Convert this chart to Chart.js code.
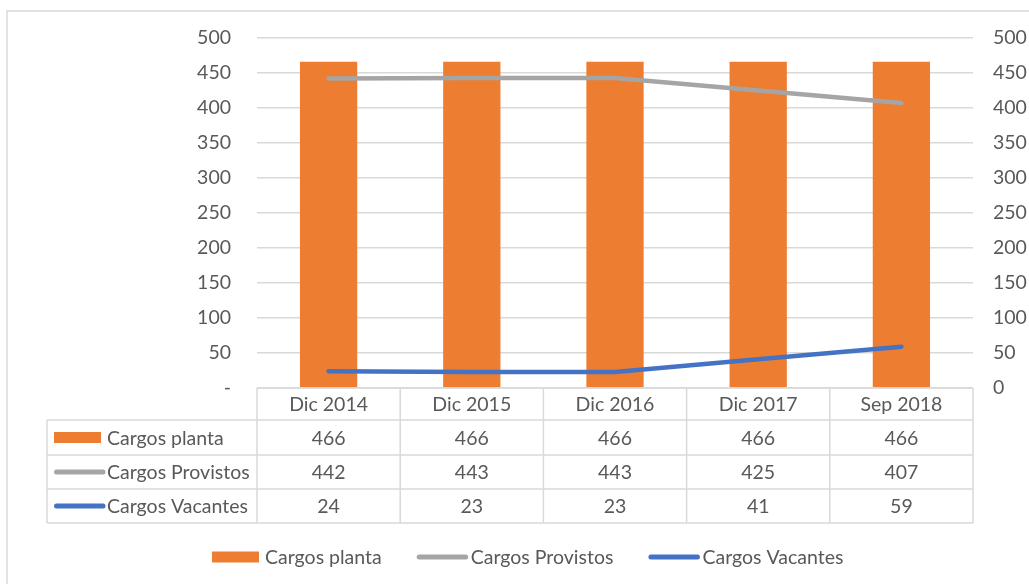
<!DOCTYPE html>
<html>
<head>
<meta charset="utf-8">
<script src="https://cdn.jsdelivr.net/npm/chart.js@4"></script>
<style>
  html, body { margin: 0; padding: 0; background: #fff; }
  #wrap { position: relative; width: 1029px; height: 584px; }
</style>
</head>
<body>
<div id="wrap"><canvas id="grafico"></canvas></div>
<script>
// Datos del gráfico
const periodos = ["Dic 2014", "Dic 2015", "Dic 2016", "Dic 2017", "Sep 2018"];
const cargosPlanta = [466, 466, 466, 466, 466];
const cargosProvistos = [442, 443, 443, 425, 407];
const cargosVacantes = [24, 23, 23, 41, 59];
const series = ["Cargos planta", "Cargos Provistos", "Cargos Vacantes"];
const ejeMin = 0, ejeMax = 500, ejePaso = 50;

const NARANJA = "#ed7d31", GRIS = "#a5a5a5", AZUL = "#4472c4";
const TEXTO = "#595959", LINEAS = "#d9d9d9";
const FUENTE = "Lato, 'Open Sans', sans-serif";
const TAM = 19.5;

// Tabla de datos + leyenda dibujadas debajo del área del gráfico
const tablaDatos = {
  id: "tablaDatos",
  beforeDraw(chart) {
    const ctx = chart.ctx;
    ctx.save();
    ctx.strokeStyle = LINEAS;
    ctx.lineWidth = 1.5;
    ctx.strokeRect(7, 11, 1100, 700);
    ctx.restore();
  },
  afterDraw(chart) {
    const ctx = chart.ctx;
    const area = chart.chartArea;
    const xs = chart.scales.x;
    const n = periodos.length;
    const anchoCol = (area.right - area.left) / n;
    const top = Math.round(area.bottom);
    const filas = [top, top + 32, top + 67, top + 101, top + 135];
    const izq = 47;
    const valores = [cargosPlanta, cargosProvistos, cargosVacantes];
    const colores = [NARANJA, GRIS, AZUL];

    ctx.save();
    ctx.strokeStyle = LINEAS;
    ctx.lineWidth = 1.5;
    // líneas horizontales
    ctx.beginPath();
    ctx.moveTo(area.left, filas[0]);
    ctx.lineTo(area.right, filas[0]);
    for (let i = 1; i < filas.length; i++) {
      ctx.moveTo(izq, filas[i]);
      ctx.lineTo(area.right, filas[i]);
    }
    // verticales
    ctx.moveTo(izq, filas[1]);
    ctx.lineTo(izq, filas[4]);
    for (let c = 0; c <= n; c++) {
      const x = area.left + c * anchoCol;
      ctx.moveTo(x, filas[0]);
      ctx.lineTo(x, filas[4]);
    }
    ctx.stroke();

    ctx.fillStyle = TEXTO;
    ctx.font = TAM + "px " + FUENTE;
    ctx.textAlign = "center";
    ctx.textBaseline = "middle";
    periodos.forEach((p, i) => {
      const cx = xs.getPixelForValue(i);
      ctx.fillText(p, cx, (filas[0] + filas[1]) / 2 + 1);
      valores.forEach((serie, s) => {
        ctx.fillText(String(serie[i]), cx, (filas[s + 1] + filas[s + 2]) / 2 + 1);
      });
    });

    // claves de la tabla
    ctx.textAlign = "left";
    series.forEach((nombre, s) => {
      const cy = (filas[s + 1] + filas[s + 2]) / 2;
      dibujarClave(ctx, s, colores[s], 54, cy);
      ctx.fillStyle = TEXTO;
      ctx.fillText(nombre, 107, cy + 1);
    });

    // leyenda inferior
    let x = 212;
    const ly = 557;
    series.forEach((nombre, s) => {
      dibujarClave(ctx, s, colores[s], x, ly);
      const tx = s === 0 ? x + 53 : x + 54;
      ctx.fillStyle = TEXTO;
      ctx.fillText(nombre, tx, ly + 1);
      x = tx + ctx.measureText(nombre).width + 35;
    });
    ctx.restore();
  }
};

function dibujarClave(ctx, s, color, x, cy) {
  if (s === 0) {
    ctx.fillStyle = color;
    ctx.fillRect(x, cy - 5.5, 47, 11);
  } else {
    ctx.strokeStyle = color;
    ctx.lineWidth = 5;
    ctx.lineCap = "round";
    ctx.beginPath();
    ctx.moveTo(x + 2.5, cy);
    ctx.lineTo(x + 49, cy);
    ctx.stroke();
  }
}

new Chart(document.getElementById("grafico"), {
  type: "bar",
  data: {
    labels: periodos,
    datasets: [
      {
        label: series[0],
        data: cargosPlanta,
        backgroundColor: NARANJA,
        barPercentage: 0.4,
        categoryPercentage: 1,
        yAxisID: "y",
        order: 2
      },
      {
        type: "line",
        label: series[1],
        data: cargosProvistos,
        borderColor: GRIS,
        borderWidth: 4.5,
        borderCapStyle: "round",
        pointRadius: 0,
        tension: 0,
        yAxisID: "y1",
        order: 1
      },
      {
        type: "line",
        label: series[2],
        data: cargosVacantes,
        borderColor: AZUL,
        borderWidth: 4.5,
        borderCapStyle: "round",
        pointRadius: 0,
        tension: 0,
        yAxisID: "y1",
        order: 0
      }
    ]
  },
  options: {
    responsive: true,
    maintainAspectRatio: false,
    animation: false,
    layout: { padding: { top: 38, left: 0, right: 0, bottom: 0 } },
    plugins: {
      legend: { display: false },
      tooltip: { enabled: false }
    },
    scales: {
      x: {
        grid: { display: false, drawTicks: false },
        border: { display: false },
        ticks: { display: false },
        afterFit(scale) { scale.height = 196; }
      },
      y: {
        position: "left",
        min: ejeMin,
        max: ejeMax,
        ticks: {
          stepSize: ejePaso,
          padding: 26,
          color: TEXTO,
          font: { family: FUENTE, size: TAM }
          ,callback: (v) => (v === 0 ? "-" : v)
        },
        grid: { color: LINEAS, lineWidth: 1.5, drawTicks: false },
        border: { display: false },
        afterFit(scale) { scale.width = 257; }
      },
      y1: {
        position: "right",
        min: ejeMin,
        max: ejeMax,
        ticks: {
          stepSize: ejePaso,
          padding: 20,
          color: TEXTO,
          font: { family: FUENTE, size: TAM }
        },
        grid: { drawOnChartArea: false, drawTicks: false },
        border: { display: false },
        afterFit(scale) { scale.width = 56; }
      }
    }
  },
  plugins: [tablaDatos]
});
</script>
</body>
</html>
